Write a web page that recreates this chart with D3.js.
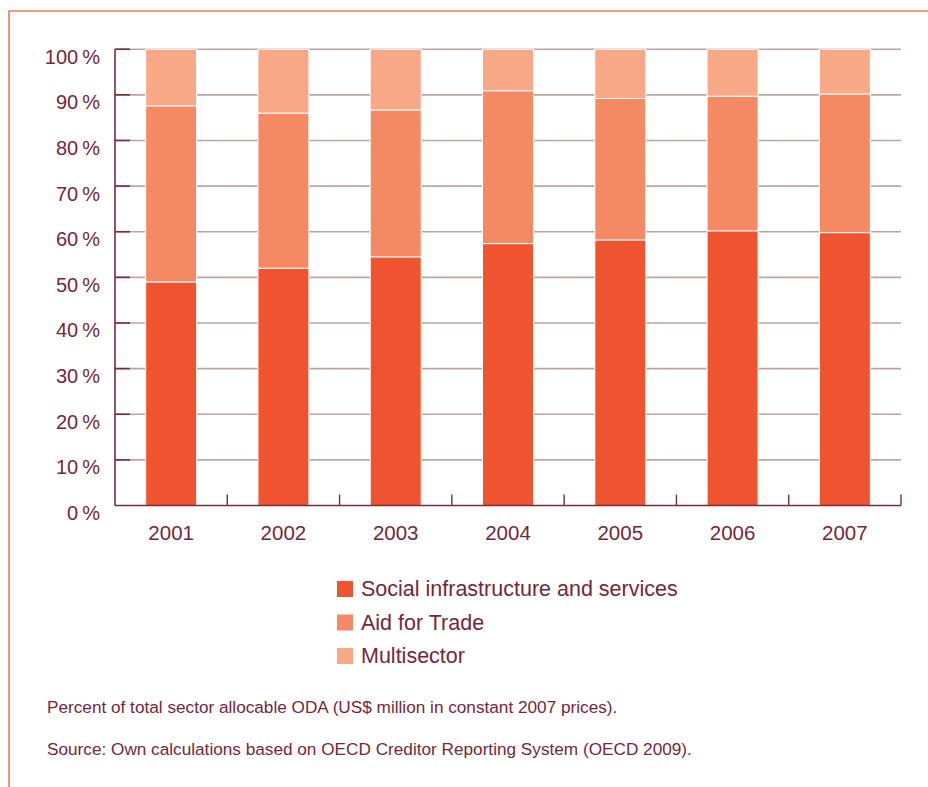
<!DOCTYPE html>
<html lang="en">
  <head>
    <meta charset="UTF-8" />
    <title>Sector allocable ODA shares</title>
    <script src="https://cdn.jsdelivr.net/npm/d3@7"></script>
    <style>
      body {
        margin: 0;
        padding: 0;
        background: #fff;
        font-family: "Liberation Sans", Arial, sans-serif;
      }
      text {
        fill: #76263a;
      }
    </style>
  </head>
  <body>
    <svg id="chart"></svg>
    <script>
      // values (percent of total)
      const years = ["2001", "2002", "2003", "2004", "2005", "2006", "2007"];
      const social = [49.0, 52.0, 54.5, 57.4, 58.2, 60.2, 59.8];
      const aidForTrade = [38.6, 34.0, 32.2, 33.5, 31.0, 29.5, 30.4];
      const multisector = [12.4, 14.0, 13.3, 9.1, 10.8, 10.3, 9.8];
      const seriesNames = ["Social infrastructure and services", "Aid for Trade", "Multisector"];
      const seriesColors = ["#f05330", "#f58964", "#f8a887"];
      const yTicks = [0, 10, 20, 30, 40, 50, 60, 70, 80, 90, 100];
      const notes = [
        "Percent of total sector allocable ODA (US$ million in constant 2007 prices).",
        "Source: Own calculations based on OECD Creditor Reporting System (OECD 2009).",
      ];

      const width = 928;
      const height = 787;
      const plotL = 115, plotR = 901, plotT = 49.2, plotB = 505.5;

      const svg = d3.select("#chart").attr("width", width).attr("height", height);

      // frame (runs off the page right and bottom)
      svg.append("path")
        .attr("d", `M9,${height + 5} V11 H${width + 5}`)
        .attr("fill", "none")
        .attr("stroke", "#f2785a")
        .attr("stroke-width", 1.6);

      const x = d3.scaleBand().domain(years).range([plotL, plotR])
        .paddingInner(0.546).paddingOuter(0.273);
      const y = d3.scaleLinear().domain([0, 100]).range([plotB, plotT]);

      const table = years.map((yr, i) => ({
        year: yr,
        social: social[i],
        aid: aidForTrade[i],
        multi: multisector[i],
      }));
      const layers = d3.stack().keys(["social", "aid", "multi"])(table);

      // gridlines
      svg.append("g").selectAll("line").data(yTicks.slice(1)).join("line")
        .attr("x1", plotL).attr("x2", plotR)
        .attr("y1", (d) => y(d)).attr("y2", (d) => y(d))
        .attr("stroke", "#bfa3a3").attr("stroke-width", 1.6);

      // bars
      svg.append("g").selectAll("g").data(layers).join("g")
        .attr("fill", (d, i) => seriesColors[i])
        .selectAll("rect").data((d) => d).join("rect")
        .attr("x", (d) => x(d.data.year))
        .attr("width", x.bandwidth())
        .attr("y", (d) => y(d[1]))
        .attr("height", (d) => y(d[0]) - y(d[1]))
        .attr("stroke", "#fff").attr("stroke-width", 1);

      // short dark ticks on y axis
      svg.append("g").selectAll("line").data(yTicks.slice(1)).join("line")
        .attr("x1", plotL).attr("x2", plotL + 15)
        .attr("y1", (d) => y(d)).attr("y2", (d) => y(d))
        .attr("stroke", "#7a2a3c").attr("stroke-width", 1.6);

      // axes lines
      svg.append("line")
        .attr("x1", plotL).attr("x2", plotL).attr("y1", plotT).attr("y2", plotB)
        .attr("stroke", "#7a2a3c").attr("stroke-width", 1.6);
      svg.append("line")
        .attr("x1", plotL).attr("x2", plotR).attr("y1", plotB).attr("y2", plotB)
        .attr("stroke", "#7a2a3c").attr("stroke-width", 1.6);

      // x boundary ticks
      svg.append("g").selectAll("line").data(d3.range(1, years.length + 1)).join("line")
        .attr("x1", (k) => plotL + k * x.step()).attr("x2", (k) => plotL + k * x.step())
        .attr("y1", plotB).attr("y2", plotB - 11)
        .attr("stroke", "#7a2a3c").attr("stroke-width", 1.4);

      // y labels
      svg.append("g").selectAll("text").data(yTicks).join("text")
        .attr("x", 100).attr("y", (d) => y(d) + 14.5)
        .attr("text-anchor", "end")
        .attr("font-size", 20)
        .text((d) => d + "\u2009%");

      // x labels
      svg.append("g").selectAll("text").data(years).join("text")
        .attr("x", (d) => x(d) + x.bandwidth() / 2).attr("y", 540)
        .attr("text-anchor", "middle")
        .attr("font-size", 20.5)
        .text((d) => d);

      // legend
      const legend = svg.append("g").selectAll("g").data(seriesNames).join("g")
        .attr("transform", (d, i) => `translate(337, ${581 + i * 33.5})`);
      legend.append("rect").attr("width", 16).attr("height", 16)
        .attr("fill", (d, i) => seriesColors[i]);
      legend.append("text").attr("x", 24).attr("y", 15)
        .attr("font-size", 21.5).text((d) => d);

      // notes
      svg.append("g").selectAll("text").data(notes).join("text")
        .attr("x", 47).attr("y", (d, i) => 713 + i * 42)
        .attr("font-size", 17.2)
        .text((d) => d);
    </script>
  </body>
</html>
